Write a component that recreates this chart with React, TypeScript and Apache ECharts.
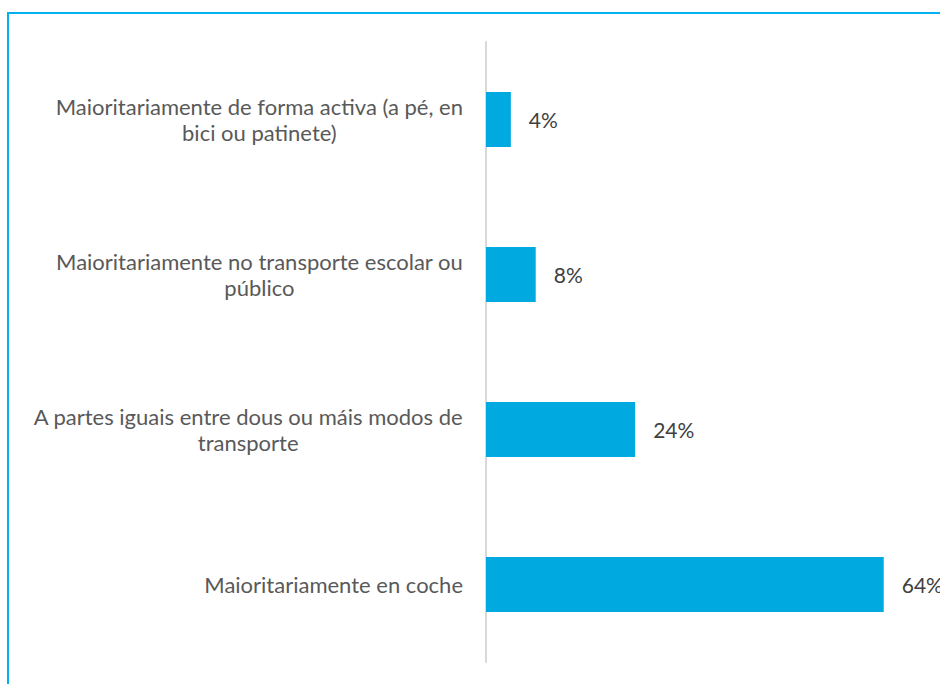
import React, { useEffect, useRef } from "react";
import * as echarts from "echarts";

const categories: string[] = [
  "Maioritariamente de forma activa (a pé, en\nbici ou patinete)",
  "Maioritariamente no transporte escolar ou\npúblico",
  "A partes iguais entre dous ou máis modos de\ntransporte",
  "Maioritariamente en coche",
];
const values: number[] = [4, 8, 24, 64];

const LABEL_FONT = "Lato, 'Open Sans', sans-serif";

export default function App() {
  const ref = useRef<HTMLDivElement>(null);
  useEffect(() => {
    if (!ref.current) return;
    const chart = echarts.init(ref.current, undefined, { renderer: "svg" });
    chart.setOption({
      animation: false,
      backgroundColor: "#ffffff",
      grid: { left: 486, top: 42, height: 620, right: 19 },
      xAxis: {
        type: "value",
        min: 0,
        max: 70,
        show: false,
      },
      yAxis: {
        type: "category",
        data: categories,
        inverse: true,
        axisLine: { show: true, lineStyle: { color: "#d9d9d9", width: 2 } },
        axisTick: { show: false },
        splitLine: { show: false },
        axisLabel: {
          margin: 23,
          color: "#595959",
          fontFamily: LABEL_FONT,
          fontSize: 22,
          lineHeight: 26,
          formatter: (v: string) =>
            v
              .split("\n")
              .map((l) => `{c|${l}}`)
              .join("\n"),
          rich: {
            c: {
              align: "center",
              color: "#595959",
              fontFamily: LABEL_FONT,
              fontSize: 22,
              lineHeight: 26,
            },
          },
        },
      },
      series: [
        {
          type: "bar",
          data: values,
          barWidth: 55,
          itemStyle: { color: "#00A9E0" },
          label: {
            show: true,
            position: "right",
            distance: 18,
            formatter: "{c}%",
            color: "#404040",
            fontFamily: LABEL_FONT,
            fontSize: 21,
          },
        },
      ],
      graphic: [
        {
          type: "rect",
          shape: { x: 8, y: 13, width: 1000, height: 1000 },
          style: { fill: "none", stroke: "#00B0F0", lineWidth: 2 },
          silent: true,
        },
      ],
    });
    return () => chart.dispose();
  }, []);
  return (
    <div
      ref={ref}
      style={{ position: "absolute", left: 0, top: 0, width: 940, height: 684 }}
    />
  );
}
